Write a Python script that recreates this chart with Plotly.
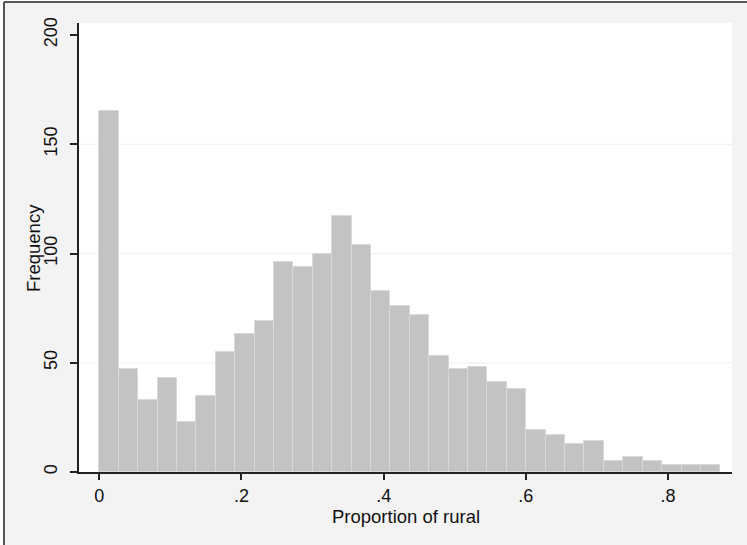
import plotly.graph_objects as go

# Data
bin_start = 0.0
bin_width = 0.0273
counts = [165, 47, 33, 43, 23, 35, 55, 63, 69, 96, 94, 100, 117, 104, 83, 76,
          72, 53, 47, 48, 41, 38, 19, 17, 13, 14, 5, 7, 5, 3, 3, 3]
x_tickvals = [0, 0.2, 0.4, 0.6, 0.8]
x_ticktext = ["0", ".2", ".4", ".6", ".8"]
y_tickvals = [0, 50, 100, 150, 200]
y_ticktext = ["0", "50", "100", "150", "200"]
grid_vals = [50, 100, 150]
x_title = "Proportion of rural"
y_title = "Frequency"

centers = [bin_start + (i + 0.5) * bin_width for i in range(len(counts))]

W, H = 747, 545
L, R, T, B = 79, 732, 23, 472  # plot area pixels

FONT = "Liberation Sans, Arial, sans-serif"


def px_x(p):
    return (p - L) / (R - L)


def px_y(p):
    return (B - p) / (B - T)


fig = go.Figure()
fig.add_trace(go.Bar(
    x=centers, y=counts, width=[bin_width] * len(counts),
    marker=dict(color="#c3c3c3", line=dict(color="#d9d9d9", width=1)),
    hoverinfo="x+y",
))

shapes = []
for g in grid_vals:
    shapes.append(dict(type="line", xref="x domain", yref="y", x0=0, x1=1, y0=g, y1=g,
                       line=dict(color="#efefef", width=1), layer="below"))

# outer frame (left and top border of the graph window)
shapes.append(dict(type="rect", xref="paper", yref="paper",
                   x0=px_x(-5), x1=px_x(3), y0=px_y(-5), y1=px_y(600),
                   fillcolor="white", line=dict(width=0), layer="above"))
shapes.append(dict(type="rect", xref="paper", yref="paper",
                   x0=px_x(-5), x1=px_x(800), y0=px_y(-5), y1=px_y(1),
                   fillcolor="white", line=dict(width=0), layer="above"))
shapes.append(dict(type="line", xref="paper", yref="paper",
                   x0=px_x(4), x1=px_x(4), y0=px_y(2), y1=px_y(600),
                   line=dict(color="#555555", width=2), layer="above"))
shapes.append(dict(type="line", xref="paper", yref="paper",
                   x0=px_x(4), x1=px_x(800), y0=px_y(2), y1=px_y(2),
                   line=dict(color="#555555", width=2), layer="above"))

annotations = [
    dict(text=x_title, xref="paper", yref="paper", x=px_x(405.5), y=px_y(516),
         xanchor="center", yanchor="middle", showarrow=False,
         font=dict(size=18.5, family=FONT, color="#111111")),
    dict(text=y_title, xref="paper", yref="paper", x=px_x(33), y=px_y(248),
         xanchor="center", yanchor="middle", showarrow=False, textangle=-90,
         font=dict(size=18.5, family=FONT, color="#111111")),
]

fig.update_layout(
    width=W, height=H,
    margin=dict(l=L, r=W - R, t=T, b=H - B, pad=0),
    paper_bgcolor="#f3f3f3", plot_bgcolor="white",
    showlegend=False, bargap=0,
    font=dict(family=FONT, color="#111111", size=17),
    shapes=shapes, annotations=annotations,
    xaxis=dict(
        range=[-0.02856, 0.8900], tickvals=x_tickvals, ticktext=x_ticktext,
        showgrid=False, zeroline=False, showline=True, linecolor="#222222", linewidth=2,
        ticks="outside", ticklen=6, tickcolor="#222222", tickwidth=1.5,
        ticklabelstandoff=0,
        tickfont=dict(size=18, family=FONT),
    ),
    yaxis=dict(
        range=[0, 205.5], tickvals=y_tickvals, ticktext=y_ticktext,
        showgrid=False, zeroline=False, showline=True, linecolor="#222222", linewidth=1.5,
        ticks="outside", ticklen=7, tickcolor="#222222", tickwidth=1.5,
        tickangle=-90, ticklabelstandoff=6,
        tickfont=dict(size=18, family=FONT),
    ),
)

fig.write_html("out.html", config={"displayModeBar": False},
               post_script="document.body.style.margin='0';")
